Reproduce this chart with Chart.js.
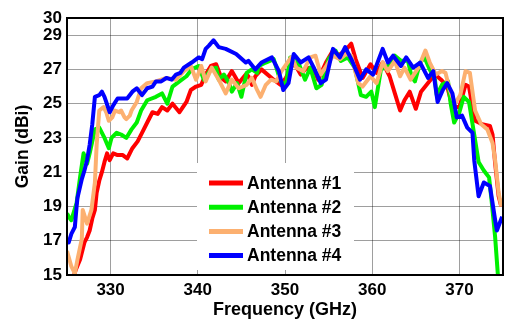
<!DOCTYPE html>
<html lang="en">
  <head>
    <meta charset="UTF-8" />
    <title>Antenna Gain vs Frequency</title>
    <script src="https://cdn.jsdelivr.net/npm/chart.js@4"></script>
    <style>
      html, body { margin: 0; padding: 0; background: #fff; }
    </style>
  </head>
  <body>
    <canvas id="gainChart" width="506" height="322"></canvas>

    <script>
      const freq1 = [325.7, 326.0, 326.5, 327.0, 327.3, 327.6, 327.9, 328.2, 328.4, 328.7, 329.0, 329.3, 329.6, 329.9, 330.3, 330.8, 331.4, 331.9, 332.5, 333.1, 333.6, 334.2, 334.8, 335.4, 335.9, 336.5, 337.1, 337.9, 338.7, 339.2, 339.8, 340.4, 340.9, 341.5, 342.1, 342.7, 343.2, 343.9, 344.7, 345.5, 345.8, 346.2, 346.6, 347.3, 348.7, 349.5, 350.1, 351.0, 351.8, 352.5, 353.3, 353.8, 354.7, 355.5, 356.1, 356.9, 357.6, 358.1, 358.9, 359.8, 360.5, 361.2, 362.0, 362.6, 363.2, 363.7, 364.3, 365.0, 365.6, 366.4, 367.2, 367.9, 368.6, 369.2, 370.0, 370.7, 371.1, 371.8, 372.6, 373.5, 373.8, 374.1, 374.5, 374.8];
      const gain1 = [14.8, 15.3, 15.9, 16.9, 17.2, 17.6, 18.3, 18.8, 19.8, 20.5, 21.0, 21.6, 22.1, 21.7, 22.1, 22.0, 22.0, 21.8, 22.4, 22.8, 23.3, 23.9, 24.5, 24.4, 24.8, 24.6, 25.0, 24.5, 25.1, 25.8, 26.0, 26.1, 26.7, 27.2, 27.3, 26.5, 26.3, 26.9, 26.2, 26.7, 26.6, 26.1, 26.6, 27.0, 26.4, 26.1, 26.5, 27.4, 26.7, 27.1, 27.0, 26.4, 27.4, 28.1, 27.8, 28.1, 28.5, 27.6, 26.5, 27.3, 26.8, 27.4, 26.6, 25.6, 24.6, 25.2, 25.7, 24.7, 25.7, 26.2, 26.7, 26.4, 26.0, 24.8, 24.8, 26.1, 26.0, 24.0, 23.8, 23.7, 23.2, 21.5, 19.6, 19.0];

      const freq2 = [325.0, 325.2, 325.5, 326.1, 326.5, 326.9, 327.3, 327.6, 328.2, 328.7, 329.3, 329.8, 330.1, 330.7, 331.2, 331.8, 332.4, 333.0, 333.5, 334.2, 335.2, 335.9, 336.5, 337.1, 337.9, 338.7, 339.3, 340.1, 340.7, 341.5, 342.1, 342.4, 343.0, 343.6, 343.9, 344.5, 345.0, 345.6, 346.2, 346.8, 347.0, 347.8, 348.7, 349.5, 350.1, 350.6, 351.3, 352.3, 352.9, 353.6, 354.2, 355.0, 355.8, 356.4, 357.2, 358.0, 358.7, 359.3, 359.9, 360.3, 361.0, 361.8, 362.6, 363.3, 364.1, 364.5, 364.9, 365.5, 366.0, 366.6, 367.2, 367.4, 368.0, 368.7, 369.0, 369.4, 370.0, 370.5, 371.1, 371.7, 372.2, 372.8, 373.4, 373.7, 374.1, 374.4, 374.6];
      const gain2 = [18.6, 18.4, 18.2, 19.2, 20.7, 22.1, 21.5, 22.1, 23.5, 23.6, 23.0, 22.4, 23.0, 23.3, 23.2, 23.0, 23.5, 23.9, 24.6, 25.2, 25.4, 25.6, 25.0, 26.0, 26.3, 26.6, 27.0, 27.2, 26.4, 27.0, 27.1, 26.4, 26.7, 26.2, 25.7, 26.2, 25.4, 26.8, 27.0, 26.8, 27.2, 27.4, 27.6, 26.3, 26.1, 27.7, 27.7, 26.4, 27.1, 25.9, 26.1, 27.6, 28.1, 27.5, 27.7, 27.1, 25.5, 25.4, 25.7, 24.8, 27.0, 27.2, 27.8, 27.5, 27.5, 26.6, 26.3, 27.4, 27.7, 27.0, 26.4, 25.5, 26.1, 26.3, 25.0, 23.9, 24.5, 25.4, 25.1, 23.2, 21.6, 21.1, 20.7, 19.3, 17.2, 15.1, 14.0];

      const freq3 = [325.0, 325.5, 325.9, 326.2, 326.7, 326.8, 327.3, 327.8, 328.2, 328.4, 328.7, 329.2, 329.5, 329.8, 330.2, 330.5, 331.0, 331.2, 331.6, 331.8, 332.2, 332.4, 333.0, 333.5, 334.2, 335.2, 336.4, 337.5, 338.4, 339.2, 339.8, 340.4, 340.9, 341.6, 342.4, 343.2, 343.9, 344.7, 345.6, 346.2, 346.8, 347.2, 347.8, 348.4, 349.0, 349.6, 350.7, 351.3, 352.1, 352.9, 353.5, 354.1, 355.0, 355.5, 356.3, 357.0, 357.6, 358.4, 358.9, 359.8, 360.5, 361.2, 361.8, 362.6, 363.2, 363.7, 364.4, 365.3, 366.1, 366.6, 367.3, 368.0, 368.4, 368.9, 369.5, 370.1, 370.7, 371.2, 371.8, 372.5, 373.2, 373.8, 374.1, 374.5, 374.8];
      const gain3 = [16.4, 15.5, 15.1, 15.9, 17.1, 18.8, 18.0, 18.8, 20.4, 22.6, 24.6, 24.8, 24.5, 24.0, 24.2, 24.6, 24.5, 24.6, 24.2, 24.1, 24.3, 24.6, 25.1, 25.9, 26.2, 26.3, 26.5, 26.4, 26.9, 27.2, 26.4, 27.2, 26.3, 27.1, 26.4, 25.6, 26.4, 25.9, 26.1, 26.5, 25.8, 25.4, 26.1, 26.4, 26.3, 26.9, 27.7, 27.1, 26.9, 27.7, 27.8, 26.7, 27.4, 27.8, 27.6, 27.9, 27.8, 26.2, 26.0, 26.6, 26.2, 27.4, 26.9, 27.5, 26.6, 27.1, 26.4, 27.1, 28.1, 27.4, 26.7, 26.9, 26.8, 25.8, 25.0, 25.5, 26.9, 26.8, 24.6, 23.8, 23.5, 22.7, 21.7, 19.8, 19.0];

      const freq4 = [325.0, 325.2, 325.5, 325.9, 326.1, 326.2, 326.7, 327.0, 327.3, 327.6, 327.9, 328.2, 328.7, 329.0, 329.3, 329.9, 330.3, 330.8, 331.4, 331.9, 332.5, 333.0, 333.6, 334.2, 334.8, 335.2, 335.8, 336.4, 337.0, 337.5, 338.0, 338.4, 339.3, 340.1, 340.5, 340.9, 341.3, 341.8, 342.4, 343.2, 344.4, 345.5, 345.8, 346.6, 347.3, 348.5, 349.3, 349.8, 350.4, 351.0, 351.8, 352.7, 353.3, 354.1, 354.7, 355.5, 356.3, 356.9, 357.6, 358.6, 359.3, 360.1, 361.2, 361.8, 362.4, 363.3, 363.9, 364.7, 365.5, 366.4, 367.0, 367.5, 368.1, 368.6, 369.2, 369.7, 370.3, 370.9, 371.5, 371.7, 372.2, 372.8, 373.5, 374.1, 374.3, 374.9];
      const gain4 = [17.1, 16.9, 17.4, 17.8, 19.0, 19.5, 20.6, 21.1, 21.7, 22.6, 23.8, 25.4, 25.5, 25.7, 25.4, 24.5, 24.9, 25.3, 25.3, 25.3, 25.7, 25.9, 25.5, 25.9, 26.0, 26.3, 26.3, 26.5, 26.4, 26.7, 26.8, 27.1, 27.4, 27.7, 27.6, 28.2, 28.4, 28.7, 28.3, 28.2, 27.9, 27.4, 27.5, 27.0, 27.4, 27.7, 26.9, 25.8, 26.2, 27.9, 27.4, 27.7, 27.1, 26.2, 26.4, 28.2, 27.7, 28.3, 27.6, 26.4, 27.0, 26.7, 28.2, 27.4, 27.8, 27.2, 27.7, 27.1, 27.4, 26.5, 26.9, 25.1, 25.8, 26.2, 25.6, 24.2, 24.3, 23.6, 23.3, 21.7, 19.6, 20.4, 20.2, 18.2, 17.6, 18.4];

      const seriesNames = ["Antenna #1", "Antenna #2", "Antenna #3", "Antenna #4"];
      const seriesColors = ["#ff0000", "#00f000", "#fcb070", "#0000ff"];
      const xTicks = [330, 340, 350, 360, 370];
      const yTicks = [15, 17, 19, 21, 23, 25, 27, 29, 30];

      const FONT = '"Liberation Sans", Arial, sans-serif';

      function toPoints(xs, ys) {
        return xs.map((x, i) => ({ x: x, y: ys[i] }));
      }

      const allFreq = [freq1, freq2, freq3, freq4];
      const allGain = [gain1, gain2, gain3, gain4];

      // MATLAB-style box around the axes
      const framePlugin = {
        id: "frame",
        afterDatasetsDraw(chart) {
          const a = chart.chartArea;
          const c = chart.ctx;
          c.save();
          c.strokeStyle = "#000";
          c.lineWidth = 2;
          c.strokeRect(a.left, a.top, a.right - a.left, a.bottom - a.top);
          c.restore();
        }
      };

      // legend box sitting inside the plot
      const boxLegend = {
        id: "boxLegend",
        afterDraw(chart) {
          const c = chart.ctx;
          c.save();
          c.fillStyle = "#fff";
          c.fillRect(197, 163, 157, 107);
          c.font = "bold 17.5px " + FONT;
          c.textBaseline = "middle";
          c.textAlign = "left";
          chart.data.datasets.forEach((ds, i) => {
            const y = 183 + i * 24.2;
            c.strokeStyle = ds.borderColor;
            c.lineWidth = 5;
            c.beginPath();
            c.moveTo(209, y);
            c.lineTo(243, y);
            c.stroke();
            c.fillStyle = "#000";
            c.fillText(ds.label, 247, y + 1);
          });
          c.restore();
        }
      };

      const ctx = document.getElementById("gainChart").getContext("2d");
      new Chart(ctx, {
        type: "line",
        data: {
          datasets: seriesNames.map((name, i) => ({
            label: name,
            data: toPoints(allFreq[i], allGain[i]),
            borderColor: seriesColors[i],
            backgroundColor: seriesColors[i],
            borderWidth: 4,
            pointRadius: 0,
            tension: 0,
            fill: false,
            clip: 0,
            borderJoinStyle: "round",
            order: 4 - i
          }))
        },
        options: {
          responsive: false,
          animation: false,
          devicePixelRatio: 1,
          layout: { padding: { top: 18, right: 3, left: 0, bottom: 0 } },
          plugins: {
            legend: { display: false },
            tooltip: { enabled: false }
          },
          scales: {
            x: {
              type: "linear",
              min: 325,
              max: 375,
              afterBuildTicks: (s) => { s.ticks = xTicks.map((v) => ({ value: v })); },
              afterFit: (s) => { s.height = 47; },
              grid: { color: "rgba(0,0,0,0.38)", lineWidth: 1, drawTicks: false },
              border: { display: false },
              ticks: {
                color: "#000",
                padding: 5,
                font: { family: FONT, size: 17, weight: "bold" }
              },
              title: {
                display: true,
                text: "Frequency (GHz)",
                color: "#000",
                padding: { top: 0, bottom: 1 },
                font: { family: FONT, size: 18, weight: "bold" }
              }
            },
            y: {
              min: 15,
              max: 30,
              afterBuildTicks: (s) => { s.ticks = yTicks.map((v) => ({ value: v })); },
              afterFit: (s) => { s.width = 67; },
              grid: { color: "rgba(0,0,0,0.38)", lineWidth: 1, drawTicks: false },
              border: { display: false },
              ticks: {
                color: "#000",
                padding: 5,
                font: { family: FONT, size: 17, weight: "bold" }
              },
              title: {
                display: true,
                text: "Gain (dBi)",
                color: "#000",
                padding: { top: 13, bottom: 0 },
                font: { family: FONT, size: 17.5, weight: "bold" }
              }
            }
          }
        },
        plugins: [framePlugin, boxLegend]
      });
    </script>
  </body>
</html>
